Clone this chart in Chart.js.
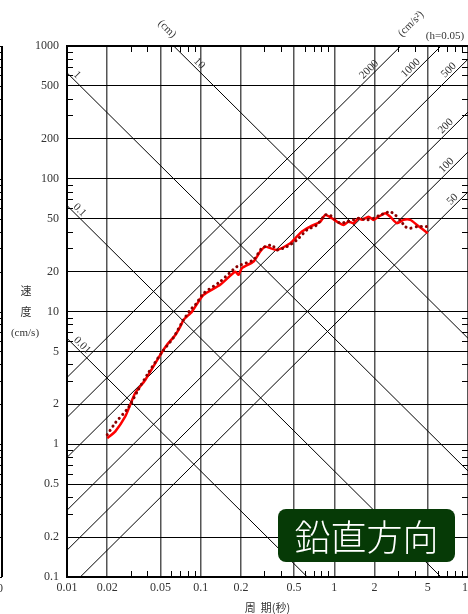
<!DOCTYPE html>
<html>
<head>
<meta charset="utf-8">
<script src="https://cdn.jsdelivr.net/npm/chart.js@4/dist/chart.umd.min.js"></script>
<style>
html, body { margin: 0; padding: 0; background: #fff; overflow: hidden; }
#wrap { position: relative; width: 468px; height: 614px; }
#tag {
    position: absolute; left: 278px; top: 509px; width: 177px; height: 53px;
    background: #063a06; border-radius: 8px; color: #fff;
    font-family: "Noto Sans CJK JP", sans-serif; font-size: 36px; font-weight: 300;
    line-height: 53px; text-align: center;
}
</style>
</head>
<body>
<div id="wrap">
    <canvas id="chart" width="468" height="614"></canvas>
    <div id="tag">鉛直方向</div>
</div>
<script>
// Velocity response spectrum (h=0.05), two records
const solidPeriods = [0.02, 0.023, 0.0273, 0.0297, 0.0324, 0.0385, 0.0499, 0.056, 0.0646, 0.0704, 0.0745, 0.0861,
    0.1045, 0.14, 0.1815, 0.192, 0.2037, 0.2487, 0.279, 0.304, 0.3316, 0.372, 0.468, 0.51, 0.572, 0.66, 0.785,
    0.855, 0.959, 1.046, 1.172, 1.277, 1.392, 1.517, 1.609, 1.803, 1.964, 2.141, 2.403, 2.618, 2.94, 3.29, 3.7,
    4.15, 5.0];
const solidVelocity = [1.11, 1.25, 1.62, 1.98, 2.44, 3.05, 4.71, 5.61, 6.66, 7.69, 8.65, 9.98,
    13.3, 15.9, 19.96, 18.9, 21.2, 23.8, 28.3, 30.8, 30.0, 29.1, 32.7, 35.6, 40.0, 43.6, 47.5,
    53.4, 50.4, 47.5, 44.9, 47.5, 46.2, 50.4, 49.0, 51.8, 49.0, 51.8, 55.0, 51.8, 46.2, 49.0, 49.0,
    44.9, 38.9];

const dottedPeriods = [0.02, 0.023, 0.0287, 0.0341, 0.0406, 0.0516, 0.0624, 0.0729, 0.0836, 0.0911,
    0.1051, 0.14, 0.187, 0.249, 0.2873, 0.3415, 0.372, 0.442, 0.525, 0.624, 0.741, 0.855, 0.931, 1.0,
    1.107, 1.242, 1.392, 1.517, 1.753, 1.964, 2.203, 2.403, 2.618, 2.855, 3.11, 3.39, 3.7, 4.15, 4.65, 4.93];
const dottedVelocity = [1.18, 1.45, 1.88, 2.57, 3.45, 4.97, 6.33, 8.35, 10.3, 11.2,
    13.7, 16.8, 21.8, 24.5, 30.0, 31.7, 29.1, 30.8, 34.6, 41.2, 44.9, 53.4, 53.0, 50.0,
    46.2, 47.5, 49.0, 50.4, 49.0, 50.4, 53.4, 55.0, 56.5, 53.4, 49.0, 43.6, 42.4, 43.6, 43.6, 43.6];

const xTickValues = [0.01, 0.02, 0.05, 0.1, 0.2, 0.5, 1, 2, 5, 10];
const xTickLabels = ['0.01', '0.02', '0.05', '0.1', '0.2', '0.5', '1', '2', '5', '10'];
const yTickValues = [0.1, 0.2, 0.5, 1, 2, 5, 10, 20, 50, 100, 200, 500, 1000];
const yTickLabels = ['0.1', '0.2', '0.5', '1', '2', '5', '10', '20', '50', '100', '200', '500', '1000'];
const minorSteps = [3, 4, 6, 7, 8, 9];

// tripartite guide lines
const dispLines = [0.01, 0.1, 1, 10];              // cm
const dispLabels = ['0.01', '0.1', '1', '10'];
const dispLabelAt = [0.0121, 0.0116, 0.0111, 0.091];
const accelLines = [50, 100, 200, 500, 1000, 2000]; // cm/s2
const accelLabels = ['50', '100', '200', '500', '1000', '2000'];
const accelLabelAt = [8.2, 7.4, 7.3, 7.7, 4.0, 1.95];

const serif = "'Liberation Serif', 'DejaVu Serif', serif";
const jp = "'Noto Sans CJK JP', sans-serif";

function toPoints(xs, ys) {
    return xs.map((x, i) => ({ x: x, y: ys[i] }));
}

// Draw guide lines, minor ticks and borders under the data
const tripartitePlugin = {
    id: 'tripartite',
    beforeDatasetsDraw(chart) {
        const { ctx, chartArea: a, scales: { x, y } } = chart;
        const tMin = x.min, tMax = x.max;

        ctx.save();
        ctx.beginPath();
        ctx.rect(a.left, a.top, a.right - a.left, a.bottom - a.top);
        ctx.clip();
        ctx.strokeStyle = '#000';
        ctx.lineWidth = 1;
        dispLines.forEach(d => {
            ctx.beginPath();
            ctx.moveTo(x.getPixelForValue(tMin), y.getPixelForValue(2 * Math.PI * d / tMin));
            ctx.lineTo(x.getPixelForValue(tMax), y.getPixelForValue(2 * Math.PI * d / tMax));
            ctx.stroke();
        });
        accelLines.forEach(acc => {
            ctx.beginPath();
            ctx.moveTo(x.getPixelForValue(tMin), y.getPixelForValue(acc * tMin / (2 * Math.PI)));
            ctx.lineTo(x.getPixelForValue(tMax), y.getPixelForValue(acc * tMax / (2 * Math.PI)));
            ctx.stroke();
        });
        ctx.restore();

        // minor ticks pointing inward
        ctx.save();
        ctx.strokeStyle = '#000';
        ctx.lineWidth = 1;
        const len = 6;
        [0.01, 0.1, 1].forEach(dec => minorSteps.forEach(s => {
            const px = Math.round(x.getPixelForValue(dec * s)) + 0.5;
            ctx.beginPath();
            ctx.moveTo(px, a.top); ctx.lineTo(px, a.top + len);
            ctx.moveTo(px, a.bottom); ctx.lineTo(px, a.bottom - len);
            ctx.stroke();
        }));
        [0.1, 1, 10, 100].forEach(dec => minorSteps.forEach(s => {
            const py = Math.round(y.getPixelForValue(dec * s)) + 0.5;
            ctx.beginPath();
            ctx.moveTo(a.left, py); ctx.lineTo(a.left + len, py);
            ctx.moveTo(a.right, py); ctx.lineTo(a.right - len, py);
            // edge of the neighbouring sheet on the far left
            ctx.moveTo(0, py); ctx.lineTo(2, py);
            ctx.stroke();
        }));
        yTickValues.forEach(v => {
            const py = Math.round(y.getPixelForValue(v)) + 0.5;
            ctx.beginPath();
            ctx.moveTo(0, py); ctx.lineTo(2, py);
            ctx.stroke();
        });
        ctx.lineWidth = 2;
        ctx.beginPath();
        ctx.moveTo(a.left, a.top); ctx.lineTo(a.right, a.top);
        ctx.moveTo(2, a.top); ctx.lineTo(2, a.bottom);
        ctx.stroke();
        ctx.restore();
    },
    afterDraw(chart) {
        const { ctx, scales: { x, y } } = chart;
        ctx.save();
        ctx.fillStyle = '#333';
        ctx.font = '11px ' + serif;
        ctx.textAlign = 'center';
        ctx.textBaseline = 'middle';

        dispLines.forEach((d, i) => {
            const t = dispLabelAt[i];
            const px = x.getPixelForValue(t) + 4;
            const py = y.getPixelForValue(2 * Math.PI * d / t) - 4;
            ctx.save();
            ctx.translate(px, py);
            ctx.rotate(Math.PI / 4);
            ctx.fillText(dispLabels[i], 0, 0);
            ctx.restore();
        });
        accelLines.forEach((acc, i) => {
            const t = accelLabelAt[i];
            const px = x.getPixelForValue(t) - 4;
            const py = y.getPixelForValue(acc * t / (2 * Math.PI)) - 4;
            ctx.save();
            ctx.translate(px, py);
            ctx.rotate(-Math.PI / 4);
            ctx.fillText(accelLabels[i], 0, 0);
            ctx.restore();
        });

        // unit captions
        ctx.save();
        ctx.translate(167, 29);
        ctx.rotate(Math.PI / 4);
        ctx.fillText('(cm)', 0, 0);
        ctx.restore();
        ctx.save();
        ctx.translate(411, 24);
        ctx.rotate(-Math.PI / 4);
        ctx.fillText('(cm/s²)', 0, 0);
        ctx.restore();
        ctx.fillText('(h=0.05)', 445, 36);

        // y axis caption, stacked
        ctx.font = '11px ' + jp;
        ctx.fillText('速', 26, 291);
        ctx.fillText('度', 26, 312);
        ctx.font = '11px ' + serif;
        ctx.fillText('(cm/s)', 25, 333);

        // cut-off label of the neighbouring sheet
        ctx.font = '12px ' + serif;
        ctx.fillText('10', -3, 589);
        ctx.restore();
    }
};

const ctx = document.getElementById('chart').getContext('2d');
const chart = new Chart(ctx, {
    type: 'line',
    data: {
        datasets: [
            {
                label: 'dotted',
                data: toPoints(dottedPeriods, dottedVelocity),
                borderColor: '#8b0000',
                borderWidth: 3,
                borderDash: [0.1, 5],
                borderCapStyle: 'round',
                pointRadius: 0,
                tension: 0.2,
                order: 1
            },
            {
                label: 'solid',
                data: toPoints(solidPeriods, solidVelocity),
                borderColor: '#ff0000',
                borderWidth: 2.5,
                pointRadius: 0,
                tension: 0.2,
                order: 2
            }
        ]
    },
    options: {
        responsive: false,
        animation: false,
        devicePixelRatio: 1,
        layout: { padding: { top: 46, left: 0, right: 0, bottom: 0 } },
        plugins: {
            legend: { display: false },
            tooltip: { enabled: false }
        },
        scales: {
            x: {
                type: 'logarithmic',
                min: 0.01,
                max: 10,
                afterBuildTicks: s => { s.ticks = xTickValues.map(v => ({ value: v })); },
                afterFit: s => { s.height = 37; s.paddingLeft = 0; s.paddingRight = 0; },
                ticks: {
                    autoSkip: false,
                    maxRotation: 0,
                    padding: 4,
                    color: '#333',
                    font: { family: serif, size: 12 },
                    callback: (v, i) => xTickLabels[i]
                },
                grid: { color: '#555', lineWidth: 1.5, drawTicks: false },
                border: { color: '#000', width: 2 },
                title: {
                    display: true,
                    text: '周  期(秒)',
                    color: '#333',
                    font: { family: jp, size: 11 },
                    padding: { top: 0, bottom: 0 }
                }
            },
            y: {
                type: 'logarithmic',
                min: 0.1,
                max: 1000,
                afterBuildTicks: s => { s.ticks = yTickValues.map(v => ({ value: v })); },
                afterFit: s => { s.width = 67; },
                ticks: {
                    autoSkip: false,
                    padding: 8,
                    color: '#333',
                    font: { family: serif, size: 12 },
                    callback: (v, i) => yTickLabels[i]
                },
                grid: { color: '#000', lineWidth: 1, drawTicks: false },
                border: { color: '#000', width: 2 }
            }
        }
    },
    plugins: [tripartitePlugin]
});
</script>
</body>
</html>
